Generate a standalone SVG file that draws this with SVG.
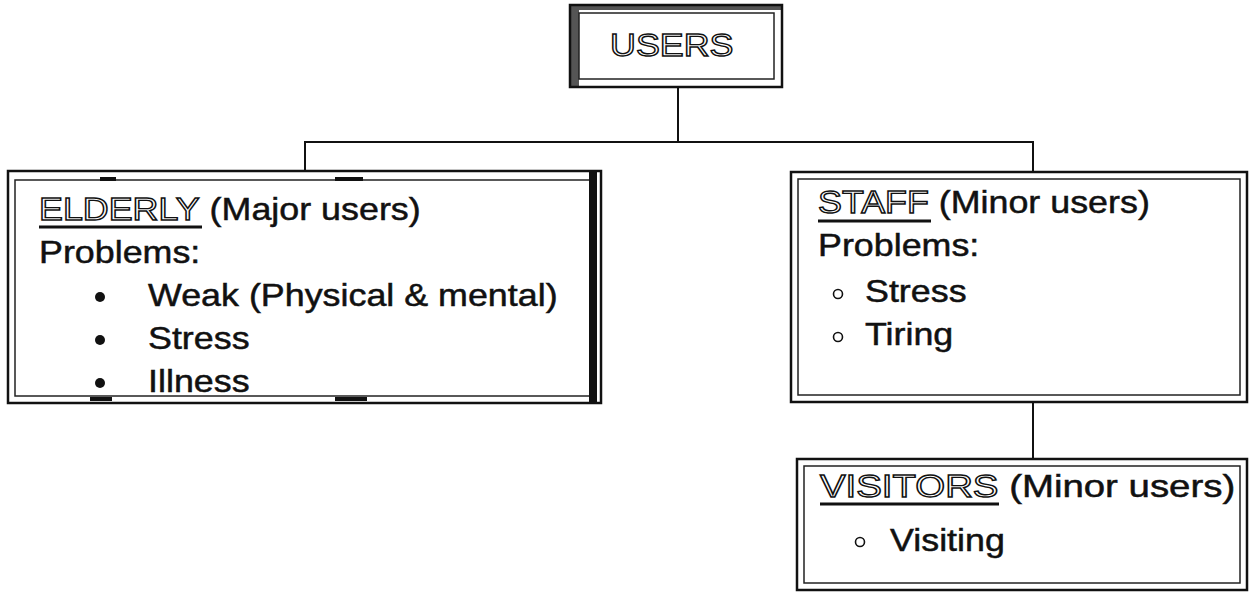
<svg xmlns="http://www.w3.org/2000/svg" width="1251" height="594" viewBox="0 0 1251 594">
  <style>
    .t { font-family: "Liberation Sans", Arial, sans-serif; font-size: 32px; fill: #111; stroke: #111; stroke-width: 0.5px; }
    .h { fill: #fff; stroke: #111; stroke-width: 1.4px; }
    .outer { fill: none; stroke: #111; stroke-width: 2.5; }
    .inner { fill: none; stroke: #222; stroke-width: 1.5; }
    .ul { stroke: #111; stroke-width: 3; }
    .conn { stroke: #111; stroke-width: 2; fill: none; }
    .dot { fill: #111; }
    .ring { fill: none; stroke: #111; stroke-width: 1.6; }
    .band { fill: #111; }
    .grey { fill: #555; }
  </style>
  <rect width="1251" height="594" fill="#fff"/>

  <g id="connectors">
    <line class="conn" x1="678" y1="87" x2="678" y2="142"/>
    <line class="conn" x1="304" y1="142" x2="1034" y2="142"/>
    <line class="conn" x1="305" y1="142" x2="305" y2="171"/>
    <line class="conn" x1="1033" y1="142" x2="1033" y2="172"/>
    <line class="conn" x1="1033" y1="402" x2="1033" y2="459"/>
  </g>

  <g id="users">
    <rect class="grey" x="571" y="6" width="8" height="80"/>
    <rect class="grey" x="571" y="6" width="210" height="4"/>
    <rect class="outer" x="570" y="5" width="212" height="82"/>
    <rect class="inner" x="579" y="13" width="195" height="66"/>
    <text class="t" transform="translate(610,56) scale(1.12,1)"><tspan class="h">USERS</tspan></text>
  </g>

  <g id="elderly">
    <rect class="outer" x="8" y="171" width="593" height="232"/>
    <rect class="inner" x="15" y="180" width="575" height="216"/>
    <rect class="band" x="589" y="172" width="8" height="231"/>
    <rect class="band" x="100" y="177" width="16" height="4"/>
    <rect class="band" x="335" y="177" width="28" height="4"/>
    <rect class="band" x="90" y="397" width="22" height="4"/>
    <rect class="band" x="335" y="397" width="32" height="4"/>
    <text class="t" transform="translate(39,220) scale(1.12,1)"><tspan class="h">ELDERLY</tspan> (Major users)</text>
    <line class="ul" x1="39" y1="227" x2="202" y2="227"/>
    <text class="t" transform="translate(39,263) scale(1.12,1)">Problems:</text>
    <circle class="dot" cx="100" cy="297" r="5"/>
    <circle class="dot" cx="100" cy="340" r="5"/>
    <circle class="dot" cx="100" cy="383" r="5"/>
    <text class="t" transform="translate(148,306) scale(1.12,1)">Weak (Physical &amp; mental)</text>
    <text class="t" transform="translate(148,349) scale(1.12,1)">Stress</text>
    <text class="t" transform="translate(148,392) scale(1.12,1)">Illness</text>
  </g>

  <g id="staff">
    <rect class="outer" x="791" y="172" width="456" height="230"/>
    <rect class="inner" x="798" y="179" width="442" height="216"/>
    <text class="t" transform="translate(818,213) scale(1.12,1)"><tspan class="h">STAFF</tspan> (Minor users)</text>
    <line class="ul" x1="818" y1="221" x2="931" y2="221"/>
    <text class="t" transform="translate(818,256) scale(1.12,1)">Problems:</text>
    <circle class="ring" cx="838" cy="294" r="4.5"/>
    <circle class="ring" cx="838" cy="337" r="4.5"/>
    <text class="t" transform="translate(865,302) scale(1.12,1)">Stress</text>
    <text class="t" transform="translate(865,345) scale(1.12,1)">Tiring</text>
  </g>

  <g id="visitors">
    <rect class="outer" x="797" y="459" width="450" height="131"/>
    <rect class="inner" x="804" y="466" width="436" height="117"/>
    <text class="t" transform="translate(820,497) scale(1.2,1)"><tspan class="h">VISITORS</tspan> (Minor users)</text>
    <line class="ul" x1="820" y1="504" x2="999" y2="504"/>
    <circle class="ring" cx="860" cy="542" r="4.5"/>
    <text class="t" transform="translate(890,551) scale(1.12,1)">Visiting</text>
  </g>
</svg>
